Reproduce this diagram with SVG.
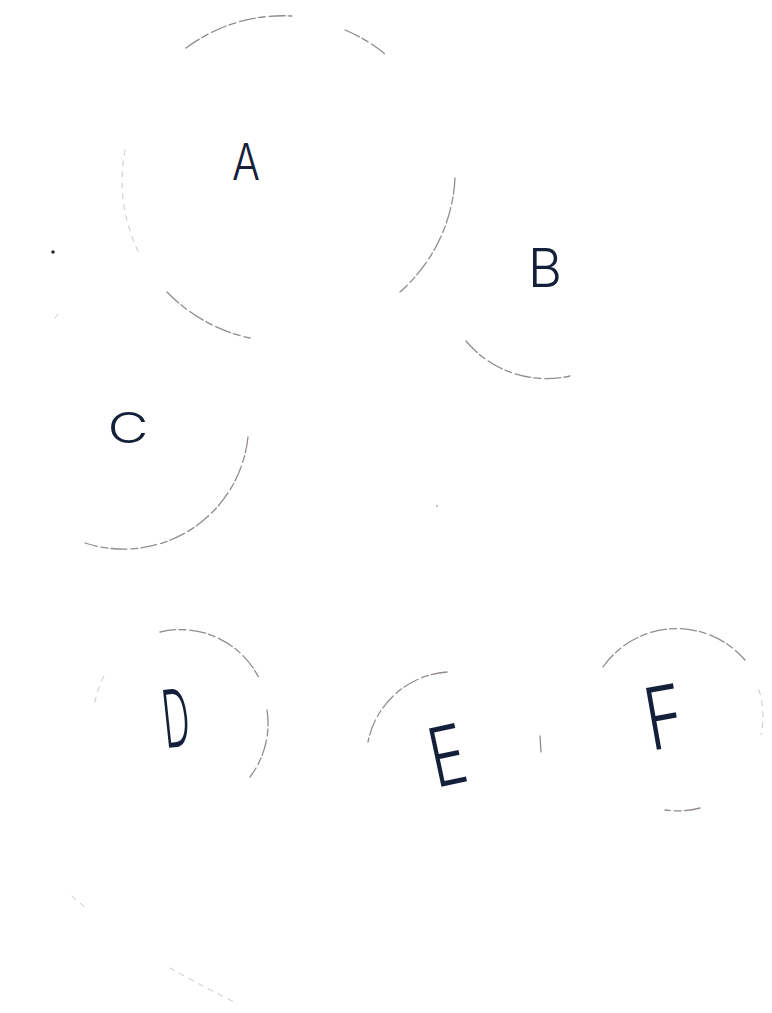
<svg xmlns="http://www.w3.org/2000/svg" width="772" height="1013" viewBox="0 0 772 1013">
  <style>
    .arc { fill: none; stroke: #948b8c; stroke-width: 1.3; stroke-linecap: round; stroke-dasharray: 16 3 7 4; }
    .faint { fill: none; stroke: #cbc6c7; stroke-width: 1; stroke-linecap: round; stroke-dasharray: 5 6; }
    .lbl { font-family: "Inter", "Liberation Sans", sans-serif; font-weight: 300; fill: #14203a; text-anchor: middle; }
  </style>
  <rect width="772" height="1013" fill="#ffffff"/>
  <g id="connectors"/>
  <g id="node-A">
    <path class="arc" d="M186,48 A162,162 0 0 1 292,16"/>
    <path class="arc" d="M345,30 A162,162 0 0 1 385,54"/>
    <path class="arc" d="M455,178 A162,162 0 0 1 400,292"/>
    <path class="arc" d="M167,292 A162,162 0 0 0 250,338"/>
    <path class="faint" d="M125,150 A162,162 0 0 0 140,255"/>
    <text class="lbl" x="246" y="180" font-size="50" textLength="28" lengthAdjust="spacingAndGlyphs">A</text>
  </g>
  <g id="node-B">
    <path class="arc" d="M466,341 A105,105 0 0 0 570,376"/>
    <text class="lbl" x="545" y="287" font-size="53" textLength="34" lengthAdjust="spacingAndGlyphs">B</text>
  </g>
  <g id="node-C">
    <path class="arc" d="M248,437 A125,125 0 0 1 85,543"/>
    <path class="faint" d="M55,318 L60,312"/>
    <text class="lbl" x="128" y="443" font-size="42" textLength="41" lengthAdjust="spacingAndGlyphs">C</text>
  </g>
  <g id="node-D">
    <path class="arc" d="M160,632 A88,88 0 0 1 260,680"/>
    <path class="arc" d="M267,710 A88,88 0 0 1 250,777"/>
    <path class="faint" d="M95,702 A88,88 0 0 1 104,676"/>
    <text class="lbl" x="176" y="747" font-size="80" textLength="27" lengthAdjust="spacingAndGlyphs" transform="rotate(-6 176 718)">D</text>
  </g>
  <g id="node-E">
    <path class="arc" d="M447,672 A87,87 0 0 0 368,742"/>
    <path class="arc" d="M540,736 L541,752"/>
    <text class="lbl" x="447" y="785" font-size="82" textLength="36" lengthAdjust="spacingAndGlyphs" transform="rotate(-12 447 755)">E</text>
  </g>
  <g id="node-F">
    <path class="arc" d="M603,667 A90,90 0 0 1 745,660"/>
    <path class="faint" d="M759,690 A90,90 0 0 1 761,735"/>
    <path class="arc" d="M700,808 A90,90 0 0 1 665,810"/>
    <text class="lbl" x="664" y="748" font-size="86" textLength="38" lengthAdjust="spacingAndGlyphs" transform="rotate(-10 664 717)">F</text>
  </g>
  <g id="marks">
    <circle cx="53" cy="252" r="1.8" fill="#2a2a2a"/>
    <circle cx="437" cy="506" r="1" fill="#b0aaab"/>
    <path class="faint" d="M72,896 L88,910"/>
    <path class="faint" d="M170,968 Q200,985 236,1003"/>
  </g>
</svg>
